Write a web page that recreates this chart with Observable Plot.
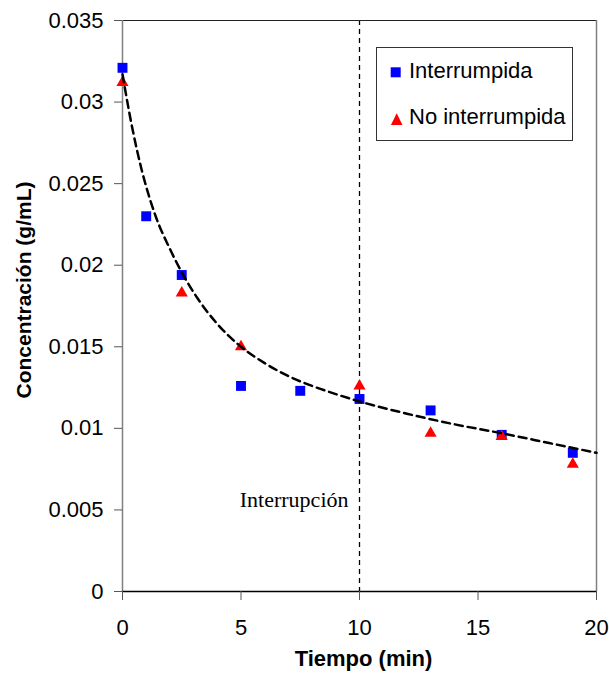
<!DOCTYPE html>
<html>
<head>
<meta charset="utf-8">
<script src="https://cdn.jsdelivr.net/npm/d3@7"></script>
<script src="https://cdn.jsdelivr.net/npm/@observablehq/plot@0.6"></script>
<style>
  html, body { margin: 0; padding: 0; background: #fff; }
  #wrap { position: relative; width: 609px; height: 677px; font-family: Arial, "Liberation Sans", sans-serif; }
  #wrap svg { display: block; }
  .lg { position: absolute; }
  .lgtext { position: absolute; font-size: 22px; line-height: 22px; color: #000; white-space: nowrap; }
</style>
</head>
<body>
<div id="wrap"></div>
<script>
// Serie "Interrumpida"
const tInterrumpida = [0, 1, 2.5, 5, 7.5, 10, 13, 16, 19];
const cInterrumpida = [0.0321, 0.0230, 0.0194, 0.0126, 0.0123, 0.0118, 0.0111, 0.0096, 0.0085];
// Serie "No interrumpida"
const tNoInterrumpida = [0, 2.5, 5, 10, 13, 16, 19];
const cNoInterrumpida = [0.0312, 0.0183, 0.0150, 0.0126, 0.0097, 0.0095, 0.0078];
// Curva de ajuste
const tAjuste = [0, 0.4, 0.8, 1.4, 2.0, 2.6, 3.2, 4.0, 5.0, 6.0, 7.0, 8.0, 9.0, 10, 12, 14, 16, 18, 20];
const cAjuste = [0.0317, 0.0285, 0.0259, 0.0230, 0.0210, 0.0193, 0.0179, 0.0164, 0.0150, 0.0140, 0.0132, 0.0126, 0.0121, 0.01165, 0.0109, 0.01025, 0.0097, 0.0091, 0.0085];
// Ejes
const xTicks = [0, 5, 10, 15, 20];
const yTicks = [0, 0.005, 0.01, 0.015, 0.02, 0.025, 0.03, 0.035];
const tInterrupcion = [10];
const annotLabel = ["Interrupción"];
const annotY = [0.00564];
const xTitle = "Tiempo (min)";
const yTitle = "Concentración (g/mL)";
const seriesNames = ["Interrumpida", "No interrumpida"];

const interr = tInterrumpida.map((t, i) => ({t, c: cInterrumpida[i]}));
const noInterr = tNoInterrumpida.map((t, i) => ({t, c: cNoInterrumpida[i]}));
const ajuste = tAjuste.map((t, i) => ({t, c: cAjuste[i]}));

const chart = Plot.plot({
  width: 609,
  height: 677,
  marginLeft: 122,
  marginRight: 13,
  marginTop: 20,
  marginBottom: 86,
  style: {fontFamily: "Arial, 'Liberation Sans', sans-serif", fontSize: "22px", background: "white", overflow: "visible"},
  x: {domain: [0, 20]},
  y: {domain: [0, 0.035]},
  marks: [
    Plot.ruleX(tInterrupcion, {x: d => d, stroke: "black", strokeWidth: 1.3, strokeDasharray: "5,4"}),
    Plot.text(annotLabel, {x: tInterrupcion[0], y: annotY[0], text: d => d, textAnchor: "end", dx: -11, fontFamily: "'Liberation Serif', 'Times New Roman', serif", fontSize: 22, fill: "black"}),
    Plot.ruleY([0.035], {stroke: "#222", strokeWidth: 1.2}),
    Plot.ruleX([20], {stroke: "#808080", strokeWidth: 1.5}),
    Plot.ruleX([0], {stroke: "#808080", strokeWidth: 1.5}),
    Plot.ruleY([0], {stroke: "black", strokeWidth: 1.3}),
    Plot.axisX({ticks: xTicks, tickFormat: d => String(d), tickSize: 9, tickPadding: 19, fontSize: 22, label: null, stroke: "#555"}),
    Plot.axisY({ticks: yTicks, tickFormat: d => String(d), tickSize: 8, tickPadding: 11, fontSize: 22, label: null, stroke: "#555"}),
    Plot.dot(interr, {x: "t", y: "c", symbol: "square", r: 5.6, fill: "#0000FF", stroke: "none"}),
    Plot.dot(noInterr, {x: "t", y: "c", symbol: "triangle", r: 4.5, fill: "#FF0000", stroke: "none"}),
    Plot.line(ajuste, {x: "t", y: "c", curve: "monotone-x", stroke: "black", strokeWidth: 2.5, strokeDasharray: "8,5"}),
    Plot.text([xTitle], {frameAnchor: "bottom", text: d => d, dy: 74, dx: 4, fontWeight: "bold", fontSize: 22, fill: "black"}),
    Plot.text([yTitle], {frameAnchor: "left", textAnchor: "middle", text: d => d, rotate: -90, dx: -98, dy: -16, fontWeight: "bold", fontSize: 21, fill: "black"})
  ]
});

const wrap = document.getElementById("wrap");
wrap.appendChild(chart);

// Leyenda (dentro del área del gráfico)
const box = document.createElement("div");
box.className = "lg";
Object.assign(box.style, {left: "376px", top: "47px", width: "195px", height: "92px", border: "1px solid #333", background: "white"});
wrap.appendChild(box);

const sym = document.createElementNS("http://www.w3.org/2000/svg", "svg");
sym.setAttribute("width", "30");
sym.setAttribute("height", "70");
sym.setAttribute("class", "lg");
sym.style.left = "385px";
sym.style.top = "62px";
sym.innerHTML = '<rect x="5.7" y="5.3" width="10" height="10" fill="#0000FF"/>' +
  '<path d="M 11.7 51.3 L 17.5 63 L 5.9 63 Z" fill="#FF0000"/>';
wrap.appendChild(sym);

const baselines = [79, 125];
seriesNames.forEach((name, i) => {
  const t = document.createElement("div");
  t.className = "lgtext";
  t.textContent = name;
  t.style.left = "409px";
  t.style.top = (baselines[i] - 18.6) + "px";
  wrap.appendChild(t);
});
</script>
</body>
</html>
